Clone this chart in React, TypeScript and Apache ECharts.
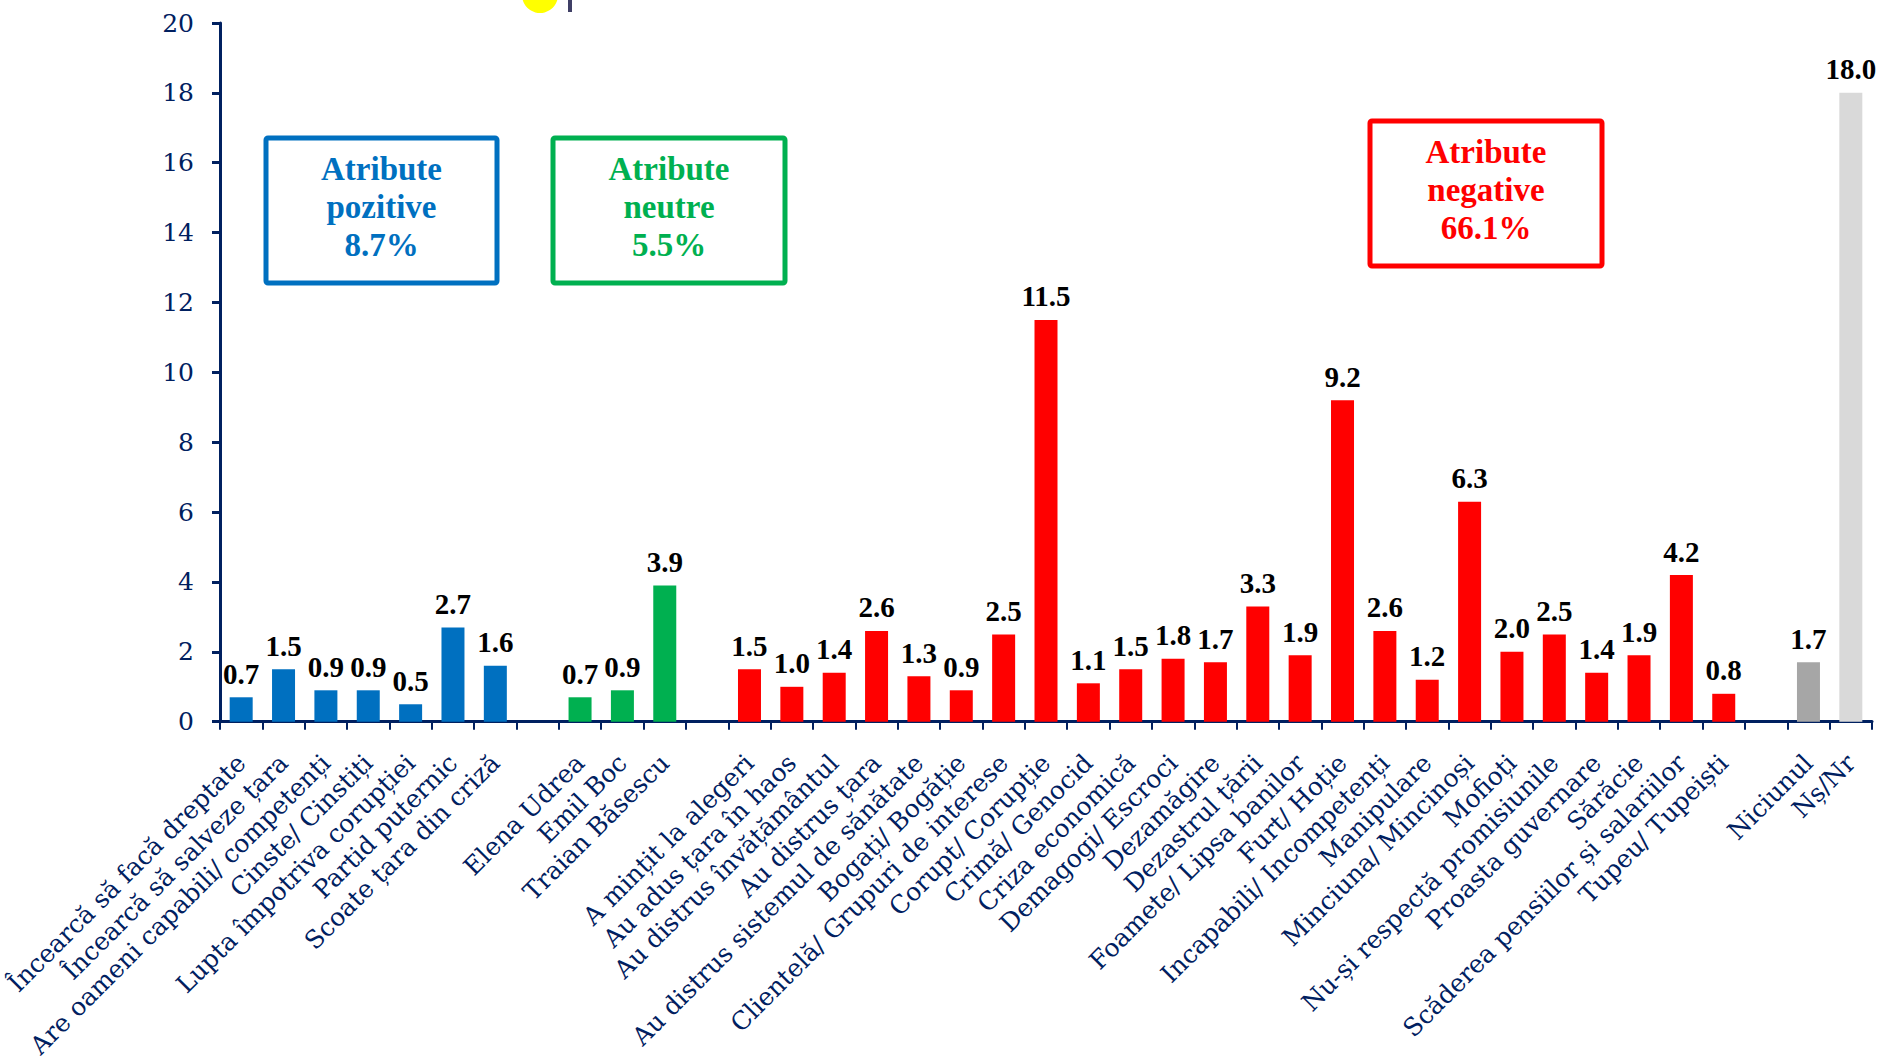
import React, { useEffect, useRef } from "react";
import * as echarts from "echarts";

const positiveLabels = [
  "Încearcă să facă dreptate",
  "Încearcă să salveze țara",
  "Are oameni capabili/ competenți",
  "Cinste/ Cinstiți",
  "Lupta împotriva corupției",
  "Partid puternic",
  "Scoate țara din criză",
];
const positiveValues = [0.7, 1.5, 0.9, 0.9, 0.5, 2.7, 1.6];

const neutralLabels = ["Elena Udrea", "Emil Boc", "Traian Băsescu"];
const neutralValues = [0.7, 0.9, 3.9];

const negativeLabels = [
  "A mințit la alegeri",
  "Au adus țara în haos",
  "Au distrus învățământul",
  "Au distrus țara",
  "Au distrus sistemul de sănătate",
  "Bogați/ Bogăție",
  "Clientelă/ Grupuri de interese",
  "Corupt/ Corupție",
  "Crimă/ Genocid",
  "Criza economică",
  "Demagogi/ Escroci",
  "Dezamăgire",
  "Dezastrul țării",
  "Foamete/ Lipsa banilor",
  "Furt/ Hoție",
  "Incapabili/ Incompetenți",
  "Manipulare",
  "Minciuna/ Mincinoși",
  "Mofioți",
  "Nu-și respectă promisiunile",
  "Proasta guvernare",
  "Sărăcie",
  "Scăderea pensiilor și salariilor",
  "Tupeu/ Tupeiști",
];
const negativeValues = [
  1.5, 1.0, 1.4, 2.6, 1.3, 0.9, 2.5, 11.5, 1.1, 1.5, 1.8, 1.7, 3.3, 1.9, 9.2,
  2.6, 1.2, 6.3, 2.0, 2.5, 1.4, 1.9, 4.2, 0.8,
];

const otherLabels = ["Niciunul", "Nș/Nr"];
const otherValues = [1.7, 18.0];
const otherColors = ["#a6a6a6", "#d9d9d9"];

const yMin = 0;
const yMax = 20;
const yInterval = 2;

const boxTitles = [
  "Atribute\npozitive\n8.7%",
  "Atribute\nneutre\n5.5%",
  "Atribute\nnegative\n66.1%",
];

const NAVY = "#002060";
const BLUE = "#0070c0";
const GREEN = "#00b050";
const RED = "#ff0000";

export default function App() {
  const ref = useRef<HTMLDivElement>(null);

  useEffect(() => {
    if (!ref.current) return;
    const chart = echarts.init(ref.current, undefined, { renderer: "svg" });

    const categories: string[] = [];
    const data: any[] = [];
    const push = (labels: string[], values: number[], colors: string[]) => {
      labels.forEach((l, i) => {
        categories.push(l);
        data.push({ value: values[i], itemStyle: { color: colors[i] } });
      });
    };
    const gap = (n: number) => {
      categories.push(" ".repeat(n));
      data.push(null);
    };
    push(positiveLabels, positiveValues, positiveLabels.map(() => BLUE));
    gap(1);
    push(neutralLabels, neutralValues, neutralLabels.map(() => GREEN));
    gap(2);
    push(negativeLabels, negativeValues, negativeLabels.map(() => RED));
    gap(3);
    push(otherLabels, otherValues, otherColors);

    const boxes = [
      { x: 266, y: 138, w: 231, h: 145, color: BLUE, text: boxTitles[0] },
      { x: 553, y: 138, w: 232, h: 145, color: GREEN, text: boxTitles[1] },
      { x: 1370, y: 121, w: 232, h: 145, color: RED, text: boxTitles[2] },
    ];

    const graphics: any[] = [
      {
        type: "circle",
        shape: { cx: 540, cy: -5, r: 18 },
        style: { fill: "#ffff00" },
        z: 10,
      },
      {
        type: "rect",
        shape: { x: 568, y: 0, width: 4, height: 12 },
        style: { fill: "#3f3f66" },
        z: 10,
      },
    ];
    boxes.forEach((b) => {
      graphics.push({
        type: "rect",
        shape: { x: b.x, y: b.y, width: b.w, height: b.h, r: 2 },
        style: { fill: "#ffffff", stroke: b.color, lineWidth: 5 },
        z: 10,
      });
      graphics.push({
        type: "text",
        x: b.x + b.w / 2,
        y: b.y + b.h / 2 - 4,
        style: {
          text: b.text,
          fill: b.color,
          fontFamily: "Liberation Serif",
          fontWeight: "bold",
          fontSize: 33,
          lineHeight: 38,
          textAlign: "center",
          textVerticalAlign: "middle",
        },
        z: 11,
      });
    });

    chart.setOption({
      animation: false,
      backgroundColor: "#ffffff",
      grid: { left: 220, right: 5, top: 23, bottom: 338, containLabel: false },
      xAxis: {
        type: "category",
        data: categories,
        axisLine: { show: true, lineStyle: { color: NAVY, width: 3 } },
        axisTick: { show: true, length: 8, lineStyle: { color: NAVY, width: 2 } },
        axisLabel: {
          interval: 0,
          rotate: 45,
          margin: 37,
          padding: [22, 0, 0, 0],
          color: NAVY,
          fontFamily: "DejaVu Serif",
          fontSize: 25,
        },
      },
      yAxis: {
        type: "value",
        min: yMin,
        max: yMax,
        interval: yInterval,
        splitLine: { show: false },
        axisLine: { show: true, lineStyle: { color: NAVY, width: 3 } },
        axisTick: { show: true, length: 8, lineStyle: { color: NAVY, width: 3 } },
        axisLabel: {
          margin: 26,
          color: NAVY,
          fontFamily: "DejaVu Serif",
          fontSize: 25,
        },
      },
      series: [
        {
          type: "bar",
          data,
          barWidth: 23,
          label: {
            show: true,
            position: "top",
            distance: 9,
            color: "#000000",
            fontFamily: "Liberation Serif",
            fontWeight: "bold",
            fontSize: 29,
            formatter: (p: any) => Number(p.value).toFixed(1),
          },
        },
      ],
      graphic: graphics,
    });

    return () => chart.dispose();
  }, []);

  return (
    <div
      ref={ref}
      style={{ position: "fixed", left: 0, top: 0, width: 1877, height: 1061 }}
    />
  );
}
